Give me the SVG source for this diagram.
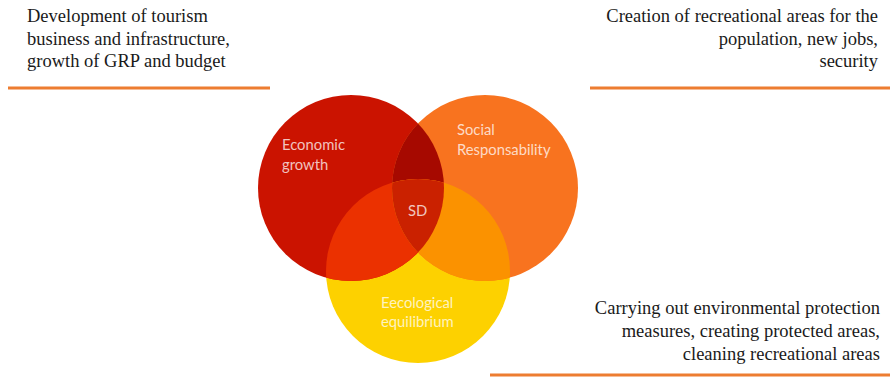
<svg xmlns="http://www.w3.org/2000/svg" width="890" height="377" viewBox="0 0 890 377">
<style>
.t{font-family:"Liberation Serif","Times New Roman",serif;font-size:18.5px;fill:#1a1a1a}
.r{text-anchor:end}
.u{stroke:#ED7D31;stroke-width:3;fill:none}
.l{font-family:Lato,"Open Sans",sans-serif;font-size:14.8px;fill:#ffffff;fill-opacity:0.75}
</style>
<defs>
<clipPath id="cR"><circle cx="351" cy="188" r="93"/></clipPath>
<clipPath id="cO"><circle cx="485" cy="188" r="93"/></clipPath>
</defs>
<rect width="890" height="377" fill="#ffffff"/>
<g id="venn">
<circle id="ecology" cx="418" cy="271" r="92" fill="#FDD100"/>
<circle id="economic" cx="351" cy="188" r="93" fill="#CB1300"/>
<circle id="social" cx="485" cy="188" r="93" fill="#F8731F"/>
<circle cx="485" cy="188" r="93" fill="#A60900" clip-path="url(#cR)"/>
<circle cx="418" cy="271" r="92" fill="#EB3100" clip-path="url(#cR)"/>
<circle cx="418" cy="271" r="92" fill="#FB9200" clip-path="url(#cO)"/>
<g clip-path="url(#cR)"><circle cx="418" cy="271" r="92" fill="#CA2100" clip-path="url(#cO)"/></g>
</g>
<g id="labels">
<text class="l" x="282" y="150">Economic</text>
<text class="l" x="282" y="170">growth</text>
<text class="l" x="457" y="135">Social</text>
<text class="l" x="457" y="155">Responsability</text>
<text class="l" x="408" y="216">SD</text>
<text class="l" x="381" y="308">Eecological</text>
<text class="l" x="381" y="327">equilibrium</text>
</g>
<g id="economic-note">
<text class="t" x="27" y="22">Development of tourism</text>
<text class="t" x="27" y="45">business and infrastructure,</text>
<text class="t" x="27" y="67">growth of GRP and budget</text>
<line class="u" x1="8" y1="88" x2="270" y2="88"/>
</g>
<g id="social-note">
<text class="t r" x="878" y="22">Creation of recreational areas for the</text>
<text class="t r" x="878" y="45">population, new jobs,</text>
<text class="t r" x="878" y="67">security</text>
<line class="u" x1="590" y1="88" x2="890" y2="88"/>
</g>
<g id="ecology-note">
<text class="t r" x="880" y="314">Carrying out environmental protection</text>
<text class="t r" x="880" y="337">measures, creating protected areas,</text>
<text class="t r" x="880" y="360">cleaning recreational areas</text>
<line class="u" x1="490" y1="375" x2="890" y2="375"/>
</g>
</svg>
